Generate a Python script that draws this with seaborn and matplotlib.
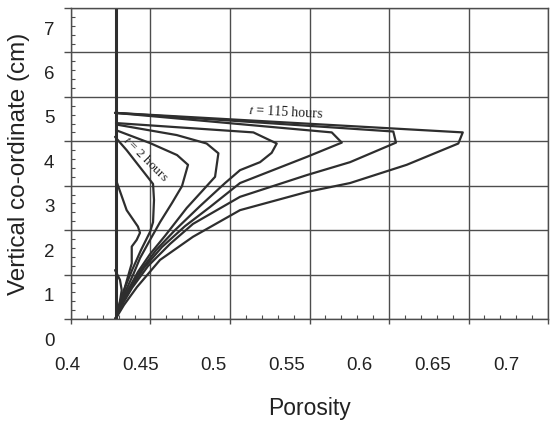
import numpy as np
import pandas as pd
import matplotlib
matplotlib.use("Agg")
import matplotlib.pyplot as plt
from matplotlib.transforms import ScaledTranslation
from matplotlib.ticker import MultipleLocator
import seaborn as sns

# ---------------- data ----------------
initial_x = [0.428, 0.428]
initial_y = [0.0, 7.0]

c0_x = [0.428, 0.4296, 0.4319, 0.4308, 0.4277]
c0_y = [0.0, 0.135, 0.65, 0.88, 1.10]

c1_x = [0.428, 0.4297, 0.4340, 0.4382, 0.4382, 0.4413, 0.4434, 0.4421, 0.4350, 0.4283]
c1_y = [0.0, 0.135, 0.727, 1.25, 1.63, 1.78, 1.94, 2.08, 2.45, 3.13]

c2_x = [0.428, 0.4302, 0.4333, 0.4384, 0.4440, 0.4497, 0.4516, 0.4522, 0.4516, 0.4350, 0.4277]
c2_y = [0.0, 0.315, 0.65, 1.10, 1.55, 1.96, 2.18, 2.68, 3.04, 3.80, 4.10]

c3_x = [0.428, 0.4308, 0.4346, 0.4390, 0.4434, 0.4497, 0.4560, 0.4635, 0.4698, 0.4736, 0.4667, 0.4497, 0.4283]
c3_y = [0.0, 0.315, 0.65, 0.99, 1.37, 1.78, 2.18, 2.61, 2.99, 3.47, 3.69, 3.96, 4.25]

c4_x = [0.428, 0.4314, 0.4358, 0.4421, 0.4497, 0.4591, 0.4728, 0.4830, 0.4906, 0.4927, 0.4853, 0.4665, 0.4296]
c4_y = [0.0, 0.315, 0.65, 1.06, 1.46, 1.87, 2.50, 2.90, 3.20, 3.73, 3.95, 4.14, 4.37]

c5_x = [0.428, 0.4314, 0.4365, 0.4440, 0.4535, 0.4654, 0.4811, 0.4969, 0.5063, 0.5189, 0.5262, 0.5294, 0.5147, 0.4283]
c5_y = [0.0, 0.315, 0.675, 1.10, 1.55, 2.00, 2.54, 3.06, 3.35, 3.53, 3.74, 3.95, 4.20, 4.41]

c6_x = [0.428, 0.4314, 0.4371, 0.4459, 0.4572, 0.4717, 0.4874, 0.5063, 0.5484, 0.5703, 0.5640, 0.4277]
c6_y = [0.0, 0.315, 0.675, 1.15, 1.62, 2.09, 2.52, 3.06, 3.65, 3.97, 4.20, 4.64]

c7_x = [0.428, 0.4321, 0.4384, 0.4484, 0.4623, 0.4767, 0.5063, 0.5484, 0.5755, 0.6044, 0.6027, 0.4277]
c7_y = [0.0, 0.315, 0.70, 1.19, 1.69, 2.14, 2.75, 3.24, 3.53, 3.97, 4.22, 4.64]

c8_x = [0.428, 0.4333, 0.4415, 0.4560, 0.4767, 0.5063, 0.5484, 0.5755, 0.6111, 0.6436, 0.6464, 0.4277]
c8_y = [0.0, 0.315, 0.72, 1.33, 1.85, 2.45, 2.86, 3.06, 3.47, 3.95, 4.20, 4.64]

x_ticks = [0.4, 0.45, 0.5, 0.55, 0.6, 0.65, 0.7]
x_tick_labels = ["0.4", "0.45", "0.5", "0.55", "0.6", "0.65", "0.7"]
y_ticks = [0, 1, 2, 3, 4, 5, 6, 7]
y_tick_labels = ["0", "1", "2", "3", "4", "5", "6", "7"]

x_label = "Porosity"
y_label = "Vertical co-ordinate (cm)"
label_first = "$t$ = 2 hours"
label_last = "$t$ = 115 hours"

# ---------------- build long table ----------------
curves = {
    "c0": (c0_x, c0_y), "c1": (c1_x, c1_y), "c2": (c2_x, c2_y),
    "c3": (c3_x, c3_y), "c4": (c4_x, c4_y), "c5": (c5_x, c5_y),
    "c6": (c6_x, c6_y), "c7": (c7_x, c7_y), "c8": (c8_x, c8_y),
}
rows = []
for name, (xs, ys) in curves.items():
    for i, (xv, yv) in enumerate(zip(xs, ys)):
        rows.append({"curve": name, "order": i, "porosity": xv, "height": yv})
df = pd.DataFrame(rows)
df_init = pd.DataFrame({"curve": "init", "order": [0, 1],
                        "porosity": initial_x, "height": initial_y})

# ---------------- figure ----------------
sns.set_theme(style="white")
plt.rcParams["font.family"] = ["Liberation Sans", "DejaVu Sans"]
plt.rcParams["mathtext.fontset"] = "stix"

DPI = 100
fig = plt.figure(figsize=(5.6, 4.28), dpi=DPI)
fig.patch.set_facecolor("white")
ax = fig.add_axes([71 / 560, 1 - 319 / 428, 477 / 560, 311 / 428])
ax.set_facecolor("white")

ink = "#2e2e2e"
grid_c = "#4d4d4d"

sns.lineplot(data=df, x="porosity", y="height", units="curve", estimator=None,
             sort=False, color=ink, linewidth=1.6, ax=ax, legend=False)
sns.lineplot(data=df_init, x="porosity", y="height", units="curve", estimator=None,
             sort=False, color=ink, linewidth=2.2, ax=ax, legend=False)

ax.set_xlim(0.4, 0.7)
ax.set_ylim(0, 7)
ax.set_xticks(x_ticks)
ax.set_xticklabels(x_tick_labels)
ax.set_yticks(y_ticks)
ax.set_yticklabels(y_tick_labels)
ax.xaxis.set_minor_locator(MultipleLocator(0.01))
ax.yaxis.set_minor_locator(MultipleLocator(0.2))

ax.grid(True, which="major", color=grid_c, linewidth=1.0)
for s in ax.spines.values():
    s.set_visible(True)
    s.set_color(grid_c)
    s.set_linewidth(1.0)

ax.tick_params(axis="x", which="major", direction="out", length=3.6, width=1.0,
               color=grid_c, pad=24, labelsize=13.5, labelcolor="#222222")
ax.tick_params(axis="y", which="major", direction="out", length=5, width=1.0,
               color=grid_c, pad=7, labelsize=13.5, labelcolor="#222222")
ax.tick_params(which="minor", direction="in", length=2.6, width=0.8,
               color=grid_c, bottom=True, left=True, top=False, right=False)
ax.tick_params(which="major", bottom=True, left=True, top=False, right=False)

ax.set_xlabel(x_label, fontsize=16.5, color="#222222")
ax.set_ylabel(y_label, fontsize=17.5, color="#222222")
ax.xaxis.set_label_coords(0.5, -0.25)
ax.yaxis.set_label_coords(-0.085, 0.5)

# curve labels (serif, like the scanned original)
ax.text(0.5113, 4.66, label_last, family="Liberation Serif", fontsize=10,
        color="#222222", rotation=-3, ha="left", va="center")
ax.text(0.4470, 3.60, label_first, family="Liberation Serif", fontsize=9.5,
        color="#222222", rotation=-45, ha="center", va="center",
        rotation_mode="anchor", zorder=5)

# scanned labels sit offset from their grid lines
for lab in ax.get_yticklabels():
    lab.set_transform(lab.get_transform() +
                      ScaledTranslation(0, -20 / DPI, fig.dpi_scale_trans))
for i, lab in enumerate(ax.get_xticklabels()):
    dx = -4 - 6.3 * i
    lab.set_transform(lab.get_transform() +
                      ScaledTranslation(dx / DPI, 0, fig.dpi_scale_trans))

fig.savefig("out.png", dpi=DPI)
